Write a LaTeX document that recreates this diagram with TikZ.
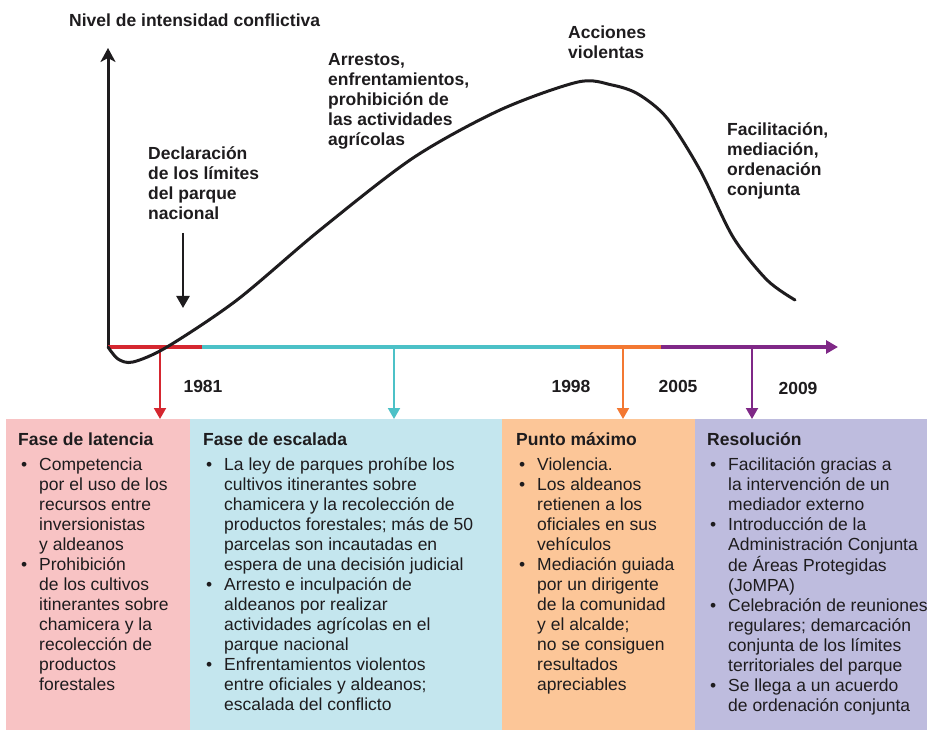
\documentclass[tikz,border=0pt]{standalone}
\usepackage{fontspec}
\setmainfont{Liberation Sans}
\usetikzlibrary{arrows.meta,positioning,calc}
\definecolor{ink}{RGB}{30,28,30}
\definecolor{latred}{RGB}{213,39,48}
\definecolor{escteal}{RGB}{76,193,199}
\definecolor{maxorange}{RGB}{243,120,50}
\definecolor{respurple}{RGB}{127,40,135}
\definecolor{latbg}{RGB}{248,195,196}
\definecolor{escbg}{RGB}{196,230,238}
\definecolor{maxbg}{RGB}{252,198,152}
\definecolor{resbg}{RGB}{190,188,222}
\newcommand{\bl}{\hspace*{3pt}\textbullet}
\tikzset{
  every node/.style={font=\fontsize{17.5}{20}\selectfont, text=ink},
  lbl/.style={font=\fontsize{17.5}{20}\selectfont\bfseries, align=left, inner sep=0pt, anchor=base west},
  yr/.style={font=\fontsize{17.5}{20}\selectfont\bfseries, inner sep=0pt, anchor=base},
  phase/.style={fill=#1, inner sep=0pt, anchor=north west},
  txt/.style={inner sep=0pt, anchor=base west},
  seg/.style={line width=4.5pt, draw=#1},
  drop/.style={line width=2pt, draw=#1, -{Triangle[length=11pt,width=12pt,fill=#1]}}
}
\begin{document}
\begin{tikzpicture}[x=1pt,y=-1pt]
\useasboundingbox (0,0) rectangle (927,730);
% phase boxes
\node[phase=latbg, minimum width=184pt, minimum height=311pt] (latbox) at (6,419) {};
\node[phase=escbg, minimum width=312pt, minimum height=311pt] (escbox) at (190,419) {};
\node[phase=maxbg, minimum width=193pt, minimum height=311pt] (maxbox) at (502,419) {};
\node[phase=resbg, minimum width=232pt, minimum height=311pt] (resbox) at (695,419) {};
% axes
\coordinate (O) at (108,347);
\coordinate (ytop) at (108,48);
\draw[line width=3pt, draw=ink, -{Stealth[length=14pt,width=15pt,inset=4pt]}] (O) -- (ytop);
\coordinate (t1) at (202,347);
\coordinate (t2) at (580,347);
\coordinate (t3) at (661,347);
\coordinate (tend) at (838,347);
\draw[seg=latred] (O) -- (t1);
\draw[seg=escteal] (t1) -- (t2);
\draw[seg=maxorange] (t2) -- (t3);
\draw[seg=respurple, -{Triangle[length=12pt,width=13pt]}] (t3) -- (tend);
% drops to the boxes
\coordinate (d1) at (160,347);
\coordinate (d2) at (394,347);
\coordinate (d3) at (623,347);
\coordinate (d4) at (752,347);
\draw[drop=latred] (d1) -- (d1 |- latbox.north);
\draw[drop=escteal] (d2) -- (d2 |- escbox.north);
\draw[drop=maxorange] (d3) -- (d3 |- maxbox.north);
\draw[drop=respurple] (d4) -- (d4 |- resbox.north);
% years
\node[yr] (y1981) at (203,392.7) {1981};
\node[yr] (y1998) at (571,392.7) {1998};
\node[yr] (y2005) at (678,392.7) {2005};
\node[yr] (y2009) at (798,394) {2009};
% intensity curve
\draw[line width=3pt, draw=ink, line cap=round] plot[smooth, tension=0.5] coordinates {
  (108,347) (118,359) (133,362) (167,347) (237,300) (320,230) (413,158)
  (500,110) (578,82) (612,85) (638,94) (667,118) (700,170) (733,237) (767,280) (795,300)};
% labels (base = last line)
\node[lbl] (ylabel) at (69,27) {Nivel de intensidad conflictiva};
\node[lbl] (arrests) at (328,146) {Arrestos,\\enfrentamientos,\\prohibición de\\las actividades\\agrícolas};
\node[lbl] (violent) at (568,58.5) {Acciones\\violentas};
\node[lbl] (decl) at (148,219.5) {Declaración\\de los límites\\del parque\\nacional};
\node[lbl] (facil) at (727,195.5) {Facilitación,\\mediación,\\ordenación\\conjunta};
\coordinate (declTop) at (183,233);
\coordinate (declTip) at (183,308);
\draw[line width=2.5pt, draw=ink, -{Triangle[length=12pt,width=13pt]}] (declTop) -- (declTip);
% box texts
\node[txt] (lattxt) at (18,445) {\begin{tabular}[t]{@{}p{21pt}@{}l@{}}
\multicolumn{2}{@{}l@{}}{\bfseries Fase de latencia}\\[5.7pt]
\bl & Competencia\\
 & por el uso de los\\
 & recursos entre\\
 & inversionistas\\
 & y aldeanos\\
\bl & Prohibición\\
 & de los cultivos\\
 & itinerantes sobre\\
 & chamicera y la\\
 & recolección de\\
 & productos\\
 & forestales
\end{tabular}};
\node[txt] (esctxt) at (203,445) {\begin{tabular}[t]{@{}p{21pt}@{}l@{}}
\multicolumn{2}{@{}l@{}}{\bfseries Fase de escalada}\\[5.7pt]
\bl & La ley de parques prohíbe los\\
 & cultivos itinerantes sobre\\
 & chamicera y la recolección de\\
 & productos forestales; más de 50\\
 & parcelas son incautadas en\\
 & espera de una decisión judicial\\
\bl & Arresto e inculpación de\\
 & aldeanos por realizar\\
 & actividades agrícolas en el\\
 & parque nacional\\
\bl & Enfrentamientos violentos\\
 & entre oficiales y aldeanos;\\
 & escalada del conflicto
\end{tabular}};
\node[txt] (maxtxt) at (516,445) {\begin{tabular}[t]{@{}p{21pt}@{}l@{}}
\multicolumn{2}{@{}l@{}}{\bfseries Punto máximo}\\[5.7pt]
\bl & Violencia.\\
\bl & Los aldeanos\\
 & retienen a los\\
 & oficiales en sus\\
 & vehículos\\
\bl & Mediación guiada\\
 & por un dirigente\\
 & de la comunidad\\
 & y el alcalde;\\
 & no se consiguen\\
 & resultados\\
 & apreciables
\end{tabular}};
\node[txt] (restxt) at (707,445) {\begin{tabular}[t]{@{}p{21pt}@{}l@{}}
\multicolumn{2}{@{}l@{}}{\bfseries Resolución}\\[5.7pt]
\bl & Facilitación gracias a\\
 & la intervención de un\\
 & mediador externo\\
\bl & Introducción de la\\
 & Administración Conjunta\\
 & de Áreas Protegidas\\
 & (JoMPA)\\
\bl & Celebración de reuniones\\
 & regulares; demarcación\\
 & conjunta de los límites\\
 & territoriales del parque\\
\bl & Se llega a un acuerdo\\
 & de ordenación conjunta
\end{tabular}};
\end{tikzpicture}
\end{document}
